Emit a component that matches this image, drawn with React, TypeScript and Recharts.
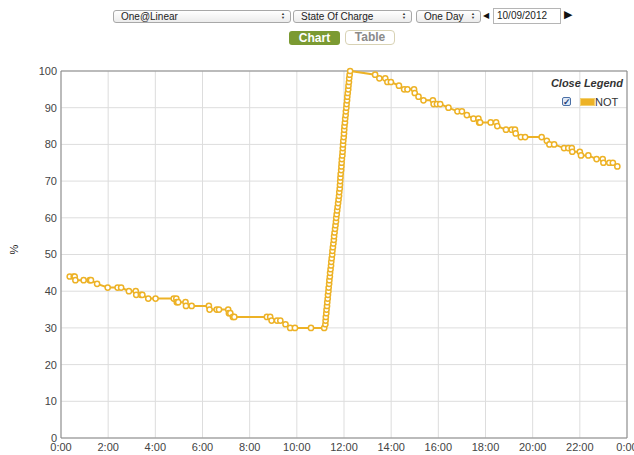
import { LineChart, Line, XAxis, YAxis, CartesianGrid, ReferenceLine } from 'recharts';

// State of charge readings for 10/09/2012, hour of day (decimal) and percent
const morningHours = [
  0.37, 0.54, 0.58, 0.61, 0.96, 1.22, 1.27, 1.53, 1.98, 2.4, 2.55, 2.88, 3.17, 3.19, 3.39, 3.45,
  3.7, 4.01, 4.78, 4.89, 4.91, 4.97, 5.28, 5.3, 5.54, 6.27, 6.3, 6.6, 6.7, 7.09, 7.12, 7.18, 7.29,
  7.35, 8.73, 8.87, 8.93, 9.16, 9.3, 9.52, 9.72, 9.92, 10.6, 11.16,
];
const morningSoc = [
  44, 44, 44, 43, 43, 43, 43, 42, 41, 41, 41, 40, 40, 39, 39, 39,
  38, 38, 38, 38, 37, 37, 37, 36, 36, 36, 35, 35, 35, 35, 34, 34, 33,
  33, 33, 33, 32, 32, 32, 31, 30, 30, 30, 30,
];

const chargeHours = [
  11.21, 11.22, 11.23, 11.25, 11.26, 11.28, 11.29, 11.31, 11.32, 11.34, 11.35, 11.37, 11.38, 11.4,
  11.41, 11.43, 11.45, 11.46, 11.48, 11.5, 11.51, 11.53, 11.55, 11.57, 11.58, 11.6, 11.62, 11.64,
  11.66, 11.67, 11.69, 11.71, 11.73, 11.75, 11.77, 11.79, 11.8, 11.82, 11.83, 11.84, 11.85, 11.86,
  11.88, 11.89, 11.9, 11.91, 11.93, 11.94, 11.95, 11.96, 11.97, 11.99, 12.0, 12.01, 12.02, 12.04,
  12.05, 12.07, 12.08, 12.1, 12.11, 12.13, 12.14, 12.16, 12.18, 12.19, 12.21, 12.22, 12.24, 12.26,
];
const chargeSoc = [
  31, 32, 33, 34, 35, 36, 37, 38, 39, 40, 41, 42, 43, 44,
  45, 46, 47, 48, 49, 50, 51, 52, 53, 54, 55, 56, 57, 58,
  59, 60, 61, 62, 63, 64, 65, 66, 67, 68, 69, 70, 71, 72,
  73, 74, 75, 76, 77, 78, 79, 80, 81, 82, 83, 84, 85, 86,
  87, 88, 89, 90, 91, 92, 93, 94, 95, 96, 97, 98, 99, 100,
];

const eveningHours = [
  13.32, 13.5, 13.75, 13.84, 13.99, 14.33, 14.55, 14.69, 14.97, 15.0, 15.16, 15.37, 15.77, 15.8,
  15.94, 16.08, 16.43, 16.81, 17.0, 17.21, 17.49, 17.7, 17.73, 17.77, 18.22, 18.45, 18.5, 18.87,
  19.11, 19.25, 19.28, 19.5, 19.68, 20.38, 20.6, 20.71, 20.91, 21.33, 21.51, 21.66, 21.68, 22.0,
  22.05, 22.36, 22.71, 22.97, 23.0, 23.25, 23.4, 23.59,
];
const eveningSoc = [
  99, 98, 98, 97, 97, 96, 95, 95, 95, 94, 93, 92, 92, 91,
  91, 91, 90, 89, 89, 88, 87, 87, 86, 86, 86, 86, 85, 84,
  84, 84, 83, 82, 82, 82, 81, 80, 80, 79, 79, 79, 78, 78,
  77, 77, 76, 76, 75, 75, 75, 74,
];

const xTicks = [0, 2, 4, 6, 8, 10, 12, 14, 16, 18, 20, 22, 24];
const yTicks = [0, 10, 20, 30, 40, 50, 60, 70, 80, 90, 100];

const hours = [...morningHours, ...chargeHours, ...eveningHours];
const soc = [...morningSoc, ...chargeSoc, ...eveningSoc];
const data = hours.map((h, i) => ({ h, NOT: soc[i] }));

const YELLOW = '#edb226';
const FONT = "'Liberation Sans', Arial, sans-serif";

function FakeSelect({ left, width, text }: { left: number; width: number; text: string }) {
  return (
    <div style={{
      position: 'absolute', left, top: 10, width, height: 13, boxSizing: 'border-box',
      border: '1px solid #a8a8a8', borderRadius: 3,
      background: 'linear-gradient(#ffffff, #ececec)',
      fontFamily: FONT, fontSize: 10, color: '#222', lineHeight: '11px',
      paddingLeft: 7,
    }}>
      {text}
      <span style={{ position: 'absolute', right: 5, top: 1, fontSize: 4, lineHeight: '4px', color: '#333' }}>
        ▲<br />▼
      </span>
    </div>
  );
}

function LegendBox() {
  return (
    <div style={{ position: 'absolute', left: 540, top: 77, width: 83, height: 32, fontFamily: FONT }}>
      <div style={{
        position: 'absolute', right: 0, top: 0, fontSize: 11, fontWeight: 'bold', fontStyle: 'italic',
        color: '#333', lineHeight: '13px', whiteSpace: 'nowrap',
      }}>
        Close Legend
      </div>
      <div style={{
        position: 'absolute', left: 22, top: 20, width: 9, height: 9, boxSizing: 'border-box',
        border: '1px solid #4a6fa5', borderRadius: 2, background: '#dfe9f7',
        fontSize: 9, lineHeight: '8px', color: '#1d3f7a', textAlign: 'center', fontWeight: 'bold',
      }}>✓</div>
      <div style={{ position: 'absolute', left: 41, top: 22, width: 13, height: 6, background: YELLOW, boxShadow: '0 0 0 1px #f2cf6e' }} />
      <div style={{ position: 'absolute', left: 55, top: 19, fontSize: 11, color: '#333', lineHeight: '13px' }}>NOT</div>
    </div>
  );
}

export default function App() {
  return (
    <div style={{ position: 'relative', width: 634, height: 455, background: '#fff', overflow: 'hidden' }}>
      <style>{'body{margin:0}'}</style>

      <FakeSelect left={113} width={178} text="One@Linear" />
      <FakeSelect left={293} width={119} text="State Of Charge" />
      <FakeSelect left={416} width={65} text="One Day" />
      <div style={{ position: 'absolute', left: 483, top: 11, fontSize: 8, color: '#111', fontFamily: FONT }}>◀</div>
      <div style={{
        position: 'absolute', left: 493, top: 8, width: 68, height: 16, boxSizing: 'border-box',
        border: '1px solid #b5b5b5', fontFamily: FONT, fontSize: 10, lineHeight: '14px', paddingLeft: 3, color: '#222',
      }}>10/09/2012</div>
      <div style={{ position: 'absolute', left: 564, top: 8, fontSize: 11, color: '#111', fontFamily: FONT }}>▶</div>

      <div style={{
        position: 'absolute', left: 289, top: 31, width: 51, height: 14, borderRadius: 3,
        background: '#7b9a32', color: '#fff', fontFamily: FONT, fontSize: 12, fontWeight: 'bold',
        textAlign: 'center', lineHeight: '14px',
      }}>Chart</div>
      <div style={{
        position: 'absolute', left: 345, top: 30, width: 50, height: 15, boxSizing: 'border-box', borderRadius: 4,
        border: '1px solid #d8d2b4', background: '#fff', color: '#8a8a8a', fontFamily: FONT, fontSize: 12,
        fontWeight: 'bold', textAlign: 'center', lineHeight: '13px',
      }}>Table</div>

      <LineChart width={634} height={455} data={data} margin={{ top: 71, right: 7, bottom: 0, left: 0 }}>
        <CartesianGrid stroke="#dddddd" vertical horizontal />
        <XAxis
          dataKey="h"
          type="number"
          domain={[0, 24]}
          ticks={xTicks}
          interval={0}
          height={17}
          tickLine={false}
          tickSize={5}
          tickMargin={0}
          axisLine={{ stroke: '#888888' }}
          tick={{ fill: '#444', fontSize: 11, fontFamily: FONT }}
          tickFormatter={(v: number) => `${v % 24}:00`}
        />
        <YAxis
          type="number"
          domain={[0, 100]}
          ticks={yTicks}
          interval={0}
          width={61}
          tickLine={false}
          tickSize={4}
          tickMargin={0}
          axisLine={{ stroke: '#888888' }}
          tick={{ fill: '#444', fontSize: 11, fontFamily: FONT }}
          label={{ value: '%', angle: -90, position: 'insideLeft', offset: 14, fill: '#222', fontSize: 11, fontFamily: FONT }}
        />
        <ReferenceLine y={100} stroke="#888888" />
        <ReferenceLine x={24} stroke="#888888" />
        <Line
          dataKey="NOT"
          type="linear"
          stroke={YELLOW}
          strokeWidth={2}
          dot={{ r: 2.6, fill: '#fff', stroke: YELLOW, strokeWidth: 1.5 }}
          isAnimationActive={false}
        />
      </LineChart>
      <LegendBox />
    </div>
  );
}
